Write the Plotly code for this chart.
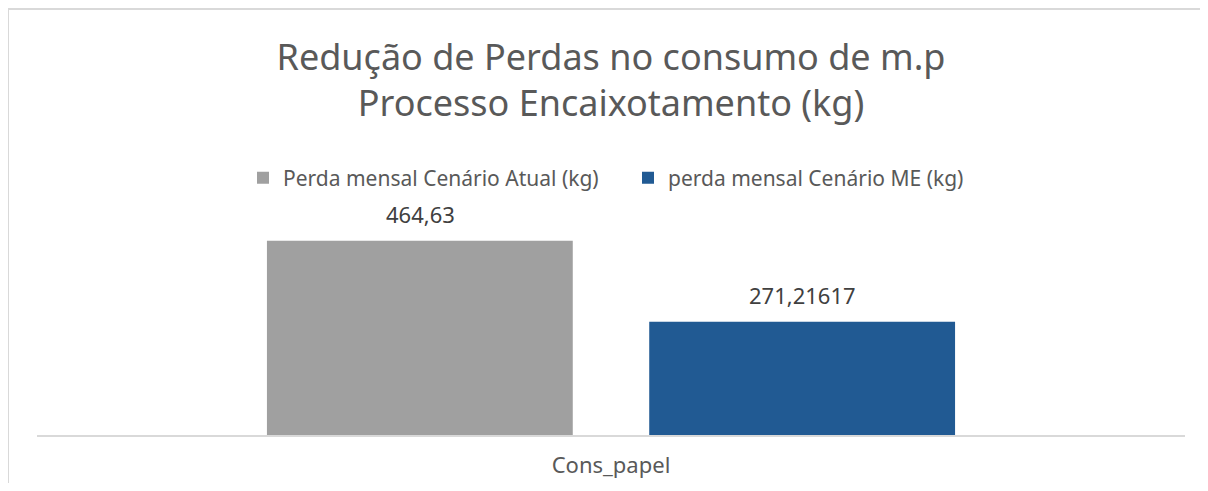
import plotly.graph_objects as go

# Data
categories = ["Cons_papel"]
series_names = ["Perda mensal Cenário Atual (kg)", "perda mensal Cenário ME (kg)"]
atual_values = [464.63]
me_values = [271.21617]
value_labels_atual = ["464,63"]
value_labels_me = ["271,21617"]

title_lines = ["Redução de Perdas no consumo de m.p", "Processo Encaixotamento (kg)"]

FONT = "Noto Sans"
GRAY = "#A0A0A0"
BLUE = "#215A93"

# figure geometry (page has an 8px body margin)
W, H = 1192, 475
L, R, T, B = 29, 15, 218, 48
PW, PH = W - L - R, H - T - B


def px_x(x):
    return (x - L) / PW


def px_y(y):
    return (H - B - y) / PH


fig = go.Figure()
fig.add_trace(go.Bar(
    x=categories, y=atual_values, name=series_names[0],
    marker=dict(color=GRAY, line=dict(width=0)),
    hoverinfo="skip",
))
fig.add_trace(go.Bar(
    x=categories, y=me_values, name=series_names[1],
    marker=dict(color=BLUE, line=dict(width=0)),
    hoverinfo="skip",
))

# value labels above bars
for vals, labels, shift in [(atual_values, value_labels_atual, -191), (me_values, value_labels_me, 191)]:
    for c, v, t in zip(categories, vals, labels):
        fig.add_annotation(
            x=c, y=v, xref="x", yref="y", text=t, showarrow=False,
            xshift=shift, yshift=10, yanchor="bottom",
            font=dict(family=FONT, size=22, color="#404040"),
        )

# chart border (top and left)
fig.add_shape(type="line", xref="paper", yref="paper",
              x0=px_x(0), x1=px_x(W), y0=px_y(1), y1=px_y(1),
              line=dict(color="#D9D9D9", width=2))
fig.add_shape(type="line", xref="paper", yref="paper",
              x0=px_x(0), x1=px_x(0), y0=px_y(1), y1=px_y(H),
              line=dict(color="#D9D9D9", width=2))

fig.update_layout(
    width=W, height=H,
    margin=dict(l=L, r=R, t=T, b=B, autoexpand=False),
    paper_bgcolor="white", plot_bgcolor="white",
    barmode="group", bargap=0.334, bargroupgap=0.2,
    title=dict(
        text="<br>".join(title_lines),
        x=603 / W, xanchor="center", xref="container",
        y=1 - 61.5 / H, yanchor="middle", yref="container",
        font=dict(family=FONT, size=36, color="#595959"),
    ),
    showlegend=True,
    legend=dict(
        orientation="h", x=px_x(620), xanchor="center", xref="paper",
        y=px_y(170), yanchor="middle",
        font=dict(family=FONT, size=21, color="#595959"),
        entrywidth=340, entrywidthmode="pixels",
        itemclick=False, itemdoubleclick=False,
        traceorder="normal",
    ),
    xaxis=dict(
        showline=True, linecolor="#D9D9D9", linewidth=2,
        ticks="outside", ticklen=10, tickcolor="rgba(0,0,0,0)",
        tickfont=dict(family=FONT, size=22, color="#595959"),
        showgrid=False, zeroline=False, fixedrange=True,
        automargin=False,
    ),
    yaxis=dict(
        range=[0, 500], visible=False, showgrid=False, zeroline=False,
        fixedrange=True, automargin=False,
    ),
)

fig.write_html("out.html")
